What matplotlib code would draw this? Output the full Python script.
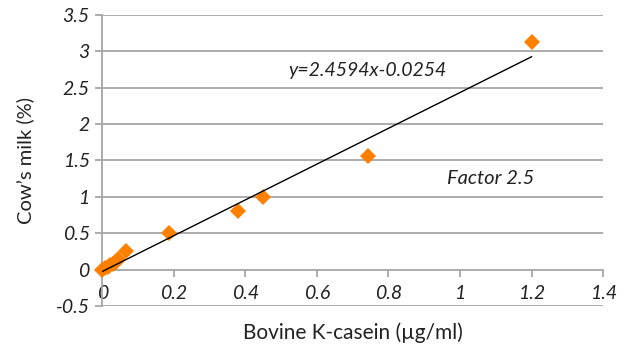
import matplotlib
matplotlib.use("Agg")
import matplotlib.pyplot as plt
import numpy as np

# Data
kcasein = [0.0, 0.008, 0.015, 0.022, 0.03, 0.038, 0.045, 0.067, 0.187, 0.38, 0.45, 0.743, 1.20]
cows_milk = [0.0, 0.02, 0.04, 0.06, 0.08, 0.11, 0.14, 0.26, 0.51, 0.80, 1.00, 1.56, 3.13]
slope = 2.4594
intercept = -0.0254
fit_x = [0.0, 1.2]
x_ticks = [0, 0.2, 0.4, 0.6, 0.8, 1, 1.2, 1.4]
x_tick_labels = ["0", "0.2", "0.4", "0.6", "0.8", "1", "1.2", "1.4"]
y_ticks = [-0.5, 0, 0.5, 1, 1.5, 2, 2.5, 3, 3.5]
y_tick_labels = ["-0.5", "0", "0.5", "1", "1.5", "2", "2.5", "3", "3.5"]

plt.rcParams['font.family'] = ['Lato', 'DejaVu Sans']

fig = plt.figure(figsize=(6.27, 3.47), dpi=100)
ax = fig.add_axes([0.163, 0.118, 0.799, 0.839])

grid_col = '#a6a6a6'
for s in ['top', 'right']:
    ax.spines[s].set_visible(False)
ax.spines['bottom'].set_position(('data', 0))
ax.spines['bottom'].set_color(grid_col)
ax.spines['bottom'].set_linewidth(1.3)
ax.spines['left'].set_color(grid_col)
ax.spines['left'].set_linewidth(1.3)

ax.set_xlim(0, 1.4)
ax.set_ylim(-0.5, 3.5)
ax.set_yticks(y_ticks)
ax.set_yticklabels(y_tick_labels, fontstyle='italic', fontsize=14)
ax.set_xticks(x_ticks)
ax.set_xticklabels(x_tick_labels, fontstyle='italic', fontsize=14)
ax.tick_params(axis='x', direction='out', length=5, width=1.3, color=grid_col, pad=6, labelcolor='#222222')
ax.tick_params(axis='y', direction='out', length=5, width=1.3, color=grid_col, pad=4, labelcolor='#222222')

for yv in y_ticks:
    if yv != 0:
        ax.axhline(yv, color=grid_col, lw=1.3, zorder=0)

ax.plot(kcasein, cows_milk, linestyle='none', marker='D', markersize=7.8,
        color='#FF8000', markeredgewidth=0, zorder=3, clip_on=False)
fx = np.array(fit_x)
ax.plot(fx, slope * fx + intercept, color='black', lw=1.0, zorder=4)

ax.text(0.52, 2.74, "y=2.4594x-0.0254", fontsize=14, fontstyle='italic',
        va='center', ha='left', color='#222222')
ax.text(0.964, 1.25, "Factor 2.5", fontsize=14.5, fontstyle='italic',
        va='center', ha='left', color='#222222')

ax.set_xlabel("Bovine K-casein (µg/ml)", fontsize=15, color='#222222')
ax.xaxis.set_label_coords(0.5, -0.055)
ax.set_ylabel("Cow’s milk (%)", fontsize=14.5, color='#222222')
ax.yaxis.set_label_coords(-0.135, 0.5)

fig.savefig("out.png", dpi=100)
